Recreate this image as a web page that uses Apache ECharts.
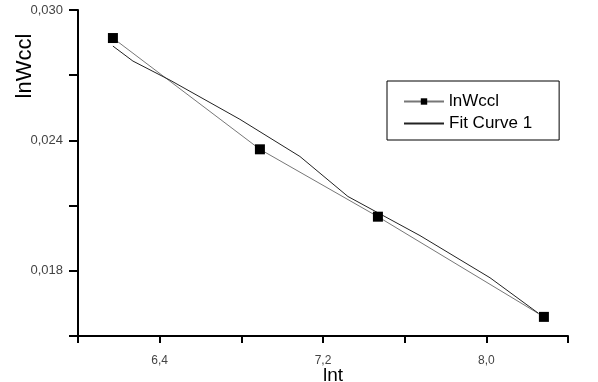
<!DOCTYPE html>
<html>
<head>
<meta charset="utf-8">
<script src="https://cdn.jsdelivr.net/npm/echarts@6/dist/echarts.min.js"></script>
<style>html,body{margin:0;padding:0;background:#fff}#c{width:598px;height:382px}</style>
</head>
<body>
<div id="c"></div>
<script>
// Measured series
var dataX = [6.171, 6.891, 7.469, 8.282];
var dataY = [0.02871, 0.02359, 0.02049, 0.01588];
// Fit curve
var fitX = [6.171, 6.269, 6.451, 6.793, 7.087, 7.322, 7.675, 8.018, 8.253];
var fitY = [0.02834, 0.02765, 0.02677, 0.02497, 0.02326, 0.02142, 0.01962, 0.01768, 0.01606];
// Labelled ticks
var xLabelValues = [6.4, 7.2, 8.0];
var yLabelValues = [0.018, 0.024, 0.030];
var seriesNames = ['lnWccl', 'Fit Curve 1'];

function pair(xs, ys) { return xs.map(function (x, i) { return [x, ys[i]]; }); }
function labelFmt(list, digits) {
  return function (v) {
    for (var i = 0; i < list.length; i++) {
      if (Math.abs(list[i] - v) < 1e-6) return list[i].toFixed(digits).replace('.', ',');
    }
    return '';
  };
}

var chart = echarts.init(document.getElementById('c'), null, { renderer: 'canvas' });
var font = 'Liberation Sans, Arial, sans-serif';
chart.setOption({
  animation: false,
  backgroundColor: '#fff',
  textStyle: { fontFamily: font },
  grid: { left: 78, right: 30, top: 10, bottom: 46, containLabel: false, outerBoundsMode: 'none' },
  xAxis: {
    type: 'value', min: 6.0, max: 8.4, interval: 0.4,
    name: 'lnt', nameLocation: 'middle', nameGap: 30, nameMoveOverlap: false,
    nameTextStyle: { fontSize: 19, color: '#000', fontFamily: font, padding: [0, 0, 0, 20] },
    axisLine: { onZero: false, lineStyle: { color: '#000', width: 2 } },
    axisTick: { show: true, length: 7, lineStyle: { color: '#000', width: 2 } },
    axisLabel: { formatter: labelFmt(xLabelValues, 1), fontSize: 12, color: '#444', margin: 19, showMinLabel: true, showMaxLabel: true },
    splitLine: { show: false }
  },
  yAxis: {
    type: 'value', min: 0.015, max: 0.030, interval: 0.003,
    axisLine: { show: true, onZero: false, lineStyle: { color: '#000', width: 2 } },
    axisTick: { show: true, length: 9, lineStyle: { color: '#000', width: 2 } },
    axisLabel: { formatter: labelFmt(yLabelValues, 3), fontSize: 13, color: '#444', margin: 15 },
    splitLine: { show: false }
  },
  graphic: [{
    type: 'text', x: 25, y: 66, rotation: Math.PI / 2,
    style: { text: 'lnWccl', font: '22px ' + font, fill: '#000', align: 'center', verticalAlign: 'middle' }
  }],
  legend: {
    orient: 'vertical', left: 387, top: 81,
    padding: [12, 27, 8, 16], itemGap: 5,
    itemWidth: 40, itemHeight: 8,
    borderColor: '#000', borderWidth: 1,
    textStyle: { fontSize: 17, color: '#000', fontFamily: font },
    data: [
      { name: seriesNames[0] },
      { name: seriesNames[1], itemStyle: { opacity: 0 } }
    ]
  },
  series: [
    {
      name: seriesNames[0], type: 'line', data: pair(dataX, dataY),
      symbol: 'rect', symbolSize: 10,
      itemStyle: { color: '#000' },
      lineStyle: { color: '#777', width: 1 }
    },
    {
      name: seriesNames[1], type: 'line', data: pair(fitX, fitY),
      symbol: 'none', smooth: false,
      itemStyle: { color: '#000' },
      lineStyle: { color: '#222', width: 1 }
    }
  ]
});
</script>
</body>
</html>
